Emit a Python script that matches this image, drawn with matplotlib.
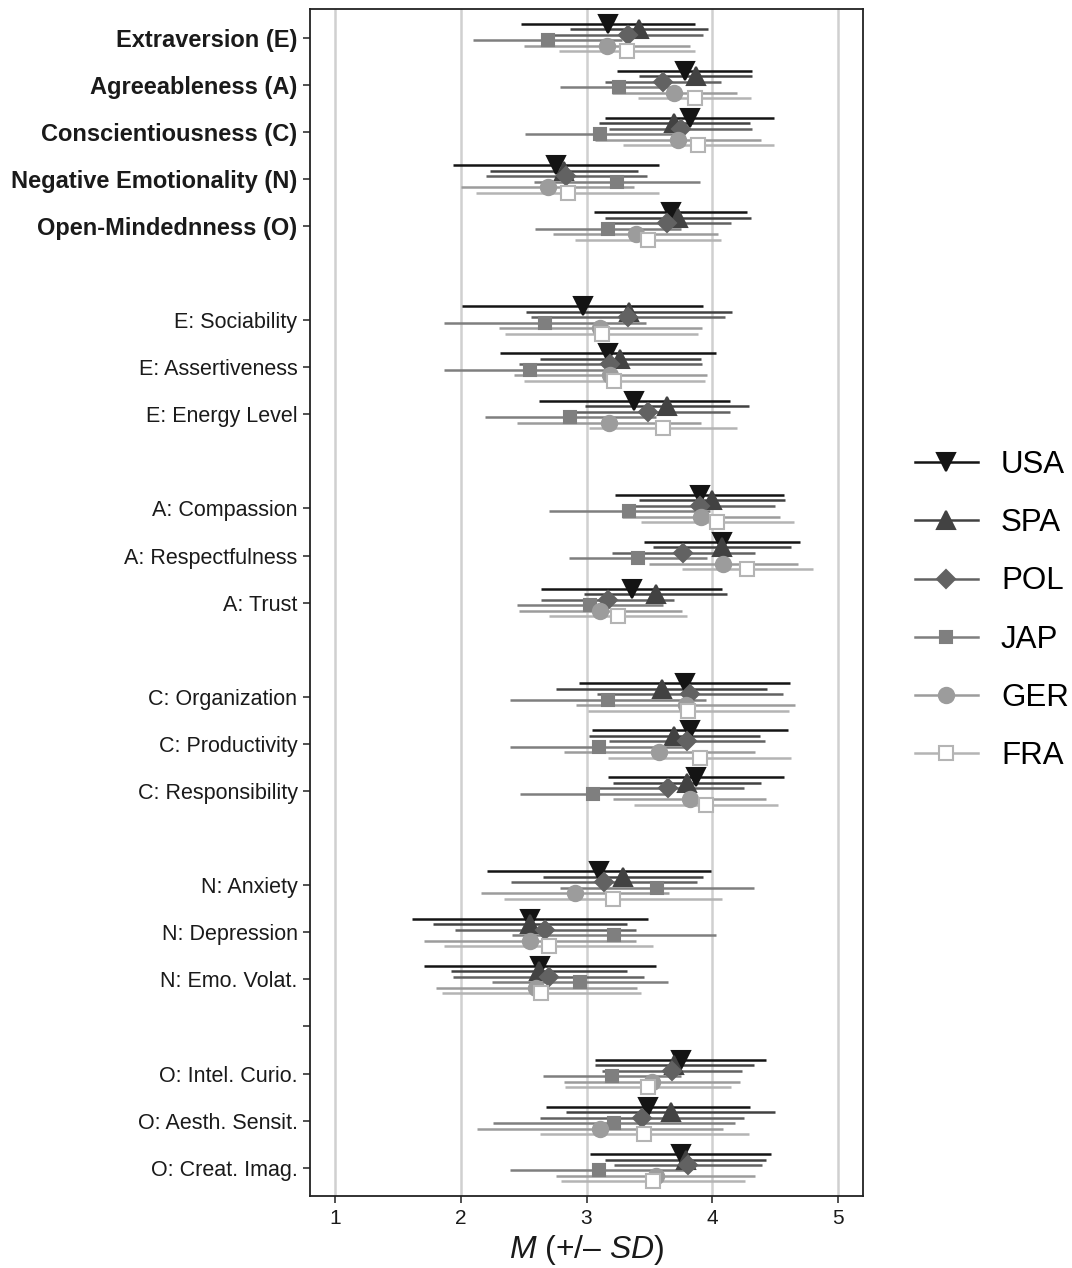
import matplotlib.pyplot as plt
from matplotlib.lines import Line2D
import numpy as np

plt.rcParams['font.family'] = ['Liberation Sans', 'DejaVu Sans']
plt.rcParams['mathtext.fontset'] = 'custom'
plt.rcParams['mathtext.it'] = 'Liberation Sans:italic'
plt.rcParams['mathtext.rm'] = 'Liberation Sans'

# rows top to bottom; '' = empty spacer row, ' ' = spacer row that keeps its tick
row_labels = ['Extraversion (E)', 'Agreeableness (A)', 'Conscientiousness (C)',
              'Negative Emotionality (N)', 'Open-Mindednness (O)', '',
              'E: Sociability', 'E: Assertiveness', 'E: Energy Level', '',
              'A: Compassion', 'A: Respectfulness', 'A: Trust', '',
              'C: Organization', 'C: Productivity', 'C: Responsibility', '',
              'N: Anxiety', 'N: Depression', 'N: Emo. Volat.', ' ',
              'O: Intel. Curio.', 'O: Aesth. Sensit.', 'O: Creat. Imag.']
domains = row_labels[:5]

countries = ['USA', 'SPA', 'POL', 'JAP', 'GER', 'FRA']

# means per trait (order of the non-empty rows)
usa_m = [3.17, 3.78, 3.82, 2.76, 3.67, 2.97, 3.17, 3.38, 3.90, 4.08, 3.36, 3.78, 3.82, 3.87, 3.10, 2.55, 2.63, 3.75, 3.49, 3.75]
spa_m = [3.42, 3.87, 3.70, 2.82, 3.73, 3.34, 3.27, 3.64, 4.00, 4.08, 3.55, 3.60, 3.70, 3.80, 3.29, 2.55, 2.62, 3.70, 3.67, 3.79]
pol_m = [3.33, 3.61, 3.75, 2.84, 3.64, 3.33, 3.19, 3.49, 3.90, 3.77, 3.17, 3.82, 3.80, 3.65, 3.14, 2.67, 2.70, 3.68, 3.44, 3.81]
jap_m = [2.69, 3.26, 3.11, 3.24, 3.17, 2.67, 2.55, 2.87, 3.34, 3.41, 3.03, 3.17, 3.10, 3.05, 3.56, 3.22, 2.95, 3.20, 3.22, 3.10]
ger_m = [3.16, 3.70, 3.73, 2.69, 3.39, 3.11, 3.19, 3.18, 3.91, 4.09, 3.11, 3.79, 3.58, 3.82, 2.91, 2.55, 2.60, 3.52, 3.11, 3.55]
fra_m = [3.32, 3.86, 3.89, 2.85, 3.49, 3.12, 3.22, 3.61, 4.04, 4.28, 3.25, 3.81, 3.90, 3.95, 3.21, 2.70, 2.64, 3.49, 3.46, 3.53]

# standard deviations
usa_sd = [0.69, 0.54, 0.67, 0.82, 0.61, 0.96, 0.86, 0.76, 0.67, 0.62, 0.72, 0.84, 0.78, 0.70, 0.89, 0.94, 0.92, 0.68, 0.81, 0.72]
spa_sd = [0.55, 0.45, 0.60, 0.59, 0.58, 0.82, 0.64, 0.65, 0.58, 0.55, 0.57, 0.84, 0.68, 0.59, 0.64, 0.77, 0.70, 0.63, 0.83, 0.64]
pol_sd = [0.60, 0.46, 0.57, 0.64, 0.51, 0.77, 0.73, 0.65, 0.60, 0.57, 0.53, 0.74, 0.62, 0.60, 0.74, 0.72, 0.76, 0.56, 0.81, 0.59]
jap_sd = [0.59, 0.47, 0.60, 0.66, 0.58, 0.80, 0.68, 0.68, 0.64, 0.55, 0.58, 0.78, 0.71, 0.58, 0.77, 0.81, 0.70, 0.55, 0.96, 0.71]
ger_sd = [0.66, 0.50, 0.66, 0.69, 0.66, 0.81, 0.77, 0.73, 0.63, 0.59, 0.65, 0.87, 0.76, 0.61, 0.75, 0.84, 0.80, 0.70, 0.98, 0.79]
fra_sd = [0.54, 0.45, 0.60, 0.73, 0.58, 0.77, 0.72, 0.59, 0.61, 0.52, 0.55, 0.80, 0.73, 0.57, 0.87, 0.83, 0.79, 0.66, 0.83, 0.73]

means = [usa_m, spa_m, pol_m, jap_m, ger_m, fra_m]
sds = [usa_sd, spa_sd, pol_sd, jap_sd, ger_sd, fra_sd]

colors = ['#141414', '#424242', '#626262', '#7f7f7f', '#9c9c9c', '#b4b4b4']
markers = ['v', '^', 'D', 's', 'o', 's']
msizes = [13.5, 13.5, 9, 9, 11, 10]
faces = colors[:5] + ['white']

fig = plt.figure(figsize=(10.72, 12.68), dpi=100)
ax = fig.add_axes([310 / 1072, 1 - 1196 / 1268, 553 / 1072, 1186.7 / 1268])

trait_rows = np.array([i + 1 for i, l in enumerate(row_labels) if l.strip()])
dodge = (np.arange(6) - 2.5) * 0.7 / 6

# all ranges first, then points on top
for k in range(6):
    m = np.array(means[k])
    s = np.array(sds[k])
    ax.hlines(trait_rows + dodge[k], m - s, m + s, color=colors[k], lw=1.8, zorder=2)
for k in range(6):
    ax.plot(means[k], trait_rows + dodge[k], ls='none', marker=markers[k], ms=msizes[k],
            mfc=faces[k], mec=colors[k], mew=1.5, zorder=3)

ax.set_xlim(0.8, 5.2)
ax.set_ylim(25.6, 0.4)
ax.set_xticks([1, 2, 3, 4, 5])
ax.grid(axis='x', color='#d0d0d0', lw=1.8)
ax.set_axisbelow(True)

tick_rows = [i + 1 for i, l in enumerate(row_labels) if l != '']
ax.set_yticks(tick_rows)
ax.set_yticklabels([row_labels[i - 1] for i in tick_rows])
ax.tick_params(axis='both', length=5, width=1.2, color='#333333', labelcolor='#1a1a1a')
ax.tick_params(axis='y', labelsize=15.5, pad=4)
ax.tick_params(axis='x', labelsize=15, pad=4)
for t in ax.get_yticklabels():
    if t.get_text() in domains:
        t.set_fontweight('bold')
        t.set_fontsize(17)
for sp in ax.spines.values():
    sp.set_color('#222222')
    sp.set_linewidth(1.3)

ax.set_xlabel(r'$M$ (+/– $SD$)', fontsize=23, labelpad=4, color='#1a1a1a')

handles = [Line2D([], [], color=colors[k], lw=1.8, marker=markers[k], ms=msizes[k],
                  mfc=faces[k], mec=colors[k], mew=1.5) for k in range(6)]
fig.legend(handles, countries, loc='center left', bbox_to_anchor=(915 / 1072, 1 - 610.5 / 1268),
           frameon=False, fontsize=22.5, handlelength=2.0, handletextpad=0.75,
           labelspacing=0.9, borderpad=0, borderaxespad=0)

fig.savefig('out.png', dpi=100)
